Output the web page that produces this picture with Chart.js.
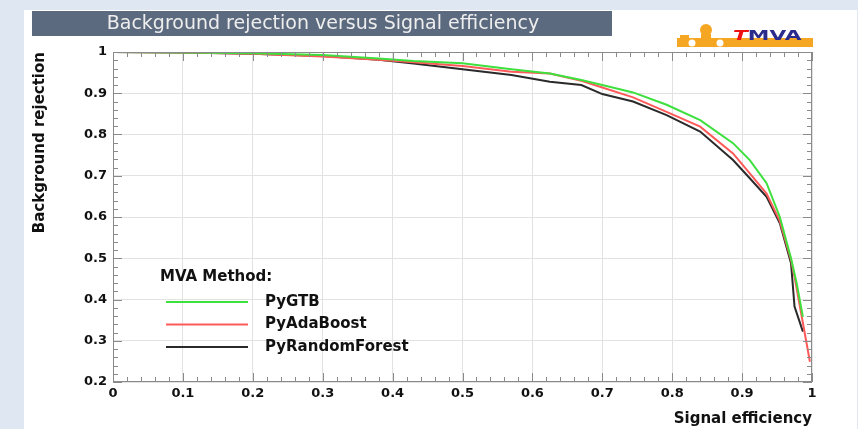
<!DOCTYPE html>
<html>
<head>
<meta charset="utf-8">
<script src="https://cdn.jsdelivr.net/npm/chart.js@4.4.0/dist/chart.umd.min.js"></script>
<style>
html, body { margin: 0; padding: 0; background: #dfe7f2; }
canvas { display: block; }
</style>
</head>
<body>
<canvas id="roc-chart" width="858" height="429"></canvas>
<script>
// ROC curves
const methodNames = ["PyGTB", "PyAdaBoost", "PyRandomForest"];
const lineColors = ["#3de03d", "#ff5a5a", "#2a2a2a"];

const effGTB = [0, 0.1, 0.2, 0.3, 0.38, 0.43, 0.5, 0.57, 0.625, 0.67, 0.7, 0.744, 0.792, 0.84, 0.887, 0.911, 0.935, 0.954, 0.97, 0.978, 0.987];
const rejGTB = [1, 0.999, 0.997, 0.993, 0.984, 0.978, 0.973, 0.958, 0.948, 0.932, 0.92, 0.902, 0.872, 0.835, 0.779, 0.738, 0.682, 0.6, 0.5, 0.44, 0.358];

const effAda = [0, 0.1, 0.2, 0.3, 0.38, 0.43, 0.5, 0.57, 0.625, 0.67, 0.7, 0.744, 0.792, 0.84, 0.887, 0.911, 0.935, 0.954, 0.97, 0.975, 0.987, 0.997];
const rejAda = [1, 0.999, 0.996, 0.989, 0.981, 0.975, 0.966, 0.952, 0.948, 0.93, 0.914, 0.89, 0.855, 0.819, 0.754, 0.706, 0.657, 0.59, 0.496, 0.455, 0.343, 0.249];

const effRF = [0, 0.1, 0.2, 0.3, 0.38, 0.43, 0.5, 0.57, 0.625, 0.67, 0.7, 0.744, 0.792, 0.84, 0.887, 0.911, 0.935, 0.954, 0.97, 0.975, 0.987];
const rejRF = [1, 0.999, 0.996, 0.99, 0.981, 0.972, 0.958, 0.944, 0.928, 0.92, 0.898, 0.88, 0.847, 0.807, 0.738, 0.694, 0.649, 0.585, 0.488, 0.383, 0.322];

const xTicks = [0, 0.1, 0.2, 0.3, 0.4, 0.5, 0.6, 0.7, 0.8, 0.9, 1];
const yTicks = [0.2, 0.3, 0.4, 0.5, 0.6, 0.7, 0.8, 0.9, 1];

const chartTitle = "Background rejection versus Signal efficiency";
const legendHeader = "MVA Method:";

const FONT = "'DejaVu Sans', sans-serif";

function toPoints(xs, ys) {
    return xs.map((x, i) => ({ x: x, y: ys[i] }));
}

const series = [toPoints(effGTB, rejGTB), toPoints(effAda, rejAda), toPoints(effRF, rejRF)];

// white page, title banner and TMVA logo
const pagePlugin = {
    id: 'page',
    beforeDraw(chart) {
        const ctx = chart.ctx;
        ctx.save();
        ctx.fillStyle = '#ffffff';
        ctx.fillRect(24, 10, 833, 419);

        ctx.fillStyle = '#5b6a7e';
        ctx.fillRect(32, 11, 580, 25);
        ctx.fillStyle = '#eeeeee';
        ctx.font = "19px " + FONT;
        ctx.textAlign = 'center';
        ctx.textBaseline = 'middle';
        ctx.fillText(chartTitle, 323, 24);

        // logo
        ctx.fillStyle = '#f5a623';
        ctx.fillRect(677, 38, 136, 9);
        ctx.fillRect(680, 35, 9, 4);
        ctx.beginPath();
        ctx.arc(706, 30, 6, 0, Math.PI * 2);
        ctx.fill();
        ctx.fillRect(701, 34, 10, 5);
        ctx.fillStyle = '#ffffff';
        ctx.beginPath();
        ctx.arc(692, 43, 3.5, 0, Math.PI * 2);
        ctx.arc(720, 43, 3.5, 0, Math.PI * 2);
        ctx.fill();

        ctx.translate(733, 40);
        ctx.scale(1.55, 1);
        ctx.textAlign = 'left';
        ctx.textBaseline = 'alphabetic';
        ctx.font = "italic bold 14px " + FONT;
        ctx.fillStyle = '#ee1111';
        ctx.fillText('T', 0, 0);
        const tw = ctx.measureText('T').width;
        ctx.fillStyle = '#2c2c8c';
        ctx.font = "bold 14px " + FONT;
        ctx.fillText('MVA', tw, 0);
        ctx.restore();
    }
};

// ROOT style tick marks on all four sides
const frameTicksPlugin = {
    id: 'frameTicks',
    afterDatasetsDraw(chart) {
        const ctx = chart.ctx;
        const a = chart.chartArea;
        const xs = chart.scales.x, ys = chart.scales.y;
        ctx.save();
        ctx.strokeStyle = '#8a8a8a';
        ctx.lineWidth = 1;
        ctx.strokeRect(a.left + 0.5, a.top + 0.5, a.right - a.left - 1, a.bottom - a.top - 1);
        ctx.beginPath();
        for (let i = 0; i <= 50; i++) {
            const len = i % 5 === 0 ? 9 : 5;
            const px = Math.round(xs.getPixelForValue(i / 50)) + 0.5;
            ctx.moveTo(px, a.bottom); ctx.lineTo(px, a.bottom - len);
            ctx.moveTo(px, a.top); ctx.lineTo(px, a.top + len);
        }
        for (let i = 10; i <= 50; i++) {
            const len = i % 5 === 0 ? 9 : 5;
            const py = Math.round(ys.getPixelForValue(i / 50)) + 0.5;
            ctx.moveTo(a.left, py); ctx.lineTo(a.left + len, py);
            ctx.moveTo(a.right, py); ctx.lineTo(a.right - len, py);
        }
        ctx.stroke();
        ctx.restore();
    }
};

// legend box inside the frame
const mvaLegendPlugin = {
    id: 'mvaLegend',
    afterDraw(chart) {
        const ctx = chart.ctx;
        ctx.save();
        ctx.fillStyle = '#111111';
        ctx.font = "bold 15px " + FONT;
        ctx.textBaseline = 'middle';
        ctx.textAlign = 'left';
        ctx.fillText(legendHeader, 160, 277);
        chart.data.datasets.forEach((ds, i) => {
            const y = 302 + i * 22.5;
            ctx.strokeStyle = ds.borderColor;
            ctx.lineWidth = 2;
            ctx.beginPath();
            ctx.moveTo(166, y);
            ctx.lineTo(248, y);
            ctx.stroke();
            ctx.fillStyle = '#111111';
            ctx.fillText(ds.label, 265, y);
        });
        ctx.restore();
    }
};

const tickFont = { family: FONT, size: 13, weight: 'bold' };

new Chart(document.getElementById("roc-chart"), {
    type: 'line',
    data: {
        datasets: methodNames.map((name, i) => ({
            label: name,
            data: series[i],
            borderColor: lineColors[i],
            backgroundColor: lineColors[i],
            borderWidth: 2,
            pointRadius: 0,
            fill: false,
            tension: 0
        }))
    },
    options: {
        responsive: false,
        animation: false,
        layout: {
            padding: { top: 52, right: 46, bottom: 0, left: 0 }
        },
        plugins: {
            legend: { display: false },
            tooltip: { enabled: false }
        },
        scales: {
            x: {
                type: 'linear',
                min: 0,
                max: 1,
                afterFit: (s) => { s.height = 47; },
                afterBuildTicks: (s) => { s.ticks = xTicks.map(v => ({ value: v })); },
                ticks: {
                    padding: 4,
                    color: '#111',
                    font: tickFont,
                    callback: (v) => String(Math.round(v * 10) / 10)
                },
                grid: { color: '#e2e2e2', drawTicks: false },
                border: { display: false },
                title: {
                    display: true,
                    text: 'Signal efficiency',
                    align: 'end',
                    color: '#111',
                    font: { family: FONT, size: 15, weight: 'bold' },
                    padding: { top: 0, bottom: 1 }
                }
            },
            y: {
                type: 'linear',
                min: 0.2,
                max: 1,
                afterFit: (s) => { s.width = 113; },
                afterBuildTicks: (s) => { s.ticks = yTicks.map(v => ({ value: v })); },
                ticks: {
                    padding: 6,
                    color: '#111',
                    font: tickFont,
                    callback: (v) => String(Math.round(v * 10) / 10)
                },
                grid: { color: '#e2e2e2', drawTicks: false },
                border: { display: false },
                title: {
                    display: true,
                    text: 'Background rejection',
                    align: 'end',
                    color: '#111',
                    font: { family: FONT, size: 15, weight: 'bold' },
                    padding: { top: 31, bottom: 0 }
                }
            }
        }
    },
    plugins: [pagePlugin, frameTicksPlugin, mvaLegendPlugin]
});
</script>
</body>
</html>
